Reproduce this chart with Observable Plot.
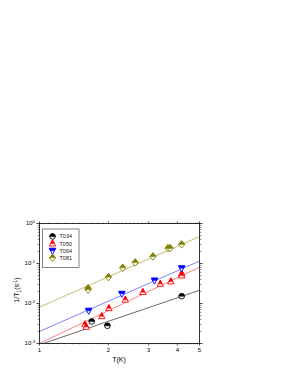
<!DOCTYPE html>
<html>
<head>
<meta charset="utf-8">
<script src="https://cdn.jsdelivr.net/npm/d3@7"></script>
<script src="https://cdn.jsdelivr.net/npm/@observablehq/plot@0.6"></script>
<style>
  html, body { margin: 0; padding: 0; background: #fff; }
  #chart { width: 291px; height: 376px; }
</style>
</head>
<body>
<div id="chart"></div>
<script>
// ---- data ----
const seriesNames = ["T034", "T050", "T064", "T081"];
const T034_T = [1.69, 1.98, 4.18];
const T034_R = [0.00355, 0.00277, 0.0152];
const T050_T = [1.58, 1.60, 1.87, 2.01, 2.37, 2.83, 3.37, 3.75, 4.18, 4.18];
const T050_R = [0.0030, 0.0026, 0.0048, 0.0076, 0.0124, 0.0192, 0.031, 0.0355, 0.056, 0.050];
const T064_T = [1.64, 2.29, 3.18, 4.18];
const T064_R = [0.0066, 0.0175, 0.0376, 0.0763];
const T081_T = [1.63, 1.63, 2.0, 2.31, 2.62, 3.13, 3.64, 3.72, 4.18];
const T081_R = [0.024, 0.022, 0.0455, 0.078, 0.106, 0.150, 0.241, 0.241, 0.30];
// power-law fit lines (straight on log-log), values at the two ends T = 1 and T = 5
const fitT = [1, 5];
const T034_fit = [0.00093, 0.0214];
const T050_fit = [0.00100, 0.081];
const T064_fit = [0.0020, 0.115];
const T081_fit = [0.0081, 0.473];
// ticks
const xMajor = [1, 2, 3, 4, 5];
const xMinor = d3.range(11, 50).map(v => v / 10).filter(v => !xMajor.includes(v));
const yMajor = [1e-3, 1e-2, 1e-1, 1];
const yMinor = [1e-3, 1e-2, 1e-1].flatMap(b => d3.range(2, 10).map(k => +(b * k).toPrecision(3)));

// ---- symbols (half-filled, Origin style) ----
function poly(ctx, pts) { ctx.moveTo(pts[0][0], pts[0][1]); for (let i = 1; i < pts.length; i++) ctx.lineTo(pts[i][0], pts[i][1]); ctx.closePath(); }
const symCircle = { draw(ctx, size) { const r = Math.sqrt(size / Math.PI); ctx.moveTo(r, 0); ctx.arc(0, 0, r, 0, 2 * Math.PI); } };
const symCircleTop = { draw(ctx, size) { const r = Math.sqrt(size / Math.PI); ctx.moveTo(-r, 0); ctx.arc(0, 0, r, Math.PI, 2 * Math.PI); ctx.closePath(); } };
const symUp = { draw(ctx, size) { const r = Math.sqrt(size / Math.PI) * 1.15; poly(ctx, [[0, -1.15 * r], [r, 0.75 * r], [-r, 0.75 * r]]); } };
const symUpTop = { draw(ctx, size) { const r = Math.sqrt(size / Math.PI) * 1.15; poly(ctx, [[0, -1.15 * r], [0.605 * r, 0], [-0.605 * r, 0]]); } };
const symDown = { draw(ctx, size) { const r = Math.sqrt(size / Math.PI) * 1.15; poly(ctx, [[-r, -0.75 * r], [r, -0.75 * r], [0, 1.15 * r]]); } };
const symDownTop = { draw(ctx, size) { const r = Math.sqrt(size / Math.PI) * 1.15; poly(ctx, [[-r, -0.75 * r], [r, -0.75 * r], [0.605 * r, 0], [-0.605 * r, 0]]); } };
const symDia = { draw(ctx, size) { const r = Math.sqrt(size / Math.PI) * 1.1; poly(ctx, [[0, -1.2 * r], [r, 0], [0, 1.2 * r], [-r, 0]]); } };
const symDiaTop = { draw(ctx, size) { const r = Math.sqrt(size / Math.PI) * 1.1; poly(ctx, [[0, -1.2 * r], [r, 0], [-r, 0]]); } };

const series = [
  { name: seriesNames[0], T: T034_T, R: T034_R, fit: T034_fit, color: "#000000", line: "#444444", sym: symCircle, top: symCircleTop },
  { name: seriesNames[1], T: T050_T, R: T050_R, fit: T050_fit, color: "#ff0000", line: "#ff6060", sym: symUp, top: symUpTop },
  { name: seriesNames[2], T: T064_T, R: T064_R, fit: T064_fit, color: "#0000ff", line: "#6060ff", sym: symDown, top: symDownTop },
  { name: seriesNames[3], T: T081_T, R: T081_R, fit: T081_fit, color: "#808000", line: "#b0b050", sym: symDia, top: symDiaTop }
];

const R = 2.8;
const marks = [];
for (const s of series) {
  const fitRows = fitT.map((t, i) => ({ T: t, R: s.fit[i] }));
  marks.push(Plot.line(fitRows, { x: "T", y: "R", stroke: s.line, strokeWidth: 0.8, clip: true }));
}
for (const s of series) {
  const pts = s.T.map((t, i) => ({ T: t, R: s.R[i] }));
  marks.push(Plot.dot(pts, { x: "T", y: "R", symbol: s.sym, r: R, fill: "white", stroke: s.color, strokeWidth: 0.9 }));
  marks.push(Plot.dot(pts, { x: "T", y: "R", symbol: s.top, r: R, fill: s.color, stroke: s.color, strokeWidth: 0.5 }));
}

const blank = () => "";
const chart = Plot.plot({
  width: 291, height: 376,
  marginLeft: 39, marginRight: 92, marginTop: 223, marginBottom: 33,
  style: { fontFamily: "'Liberation Sans', Arial, sans-serif", fontSize: "6px", background: "white", overflow: "visible" },
  x: { type: "log", domain: [1, 5] },
  y: { type: "log", domain: [1e-3, 1] },
  marks: [
    ...marks,
    Plot.frame({ stroke: "black", strokeWidth: 0.8 }),
    Plot.axisX({ anchor: "bottom", ticks: xMajor, tickSize: 2.5, tickPadding: 2, tickFormat: d => String(d), label: null, strokeWidth: 0.7 }),
    Plot.axisX({ anchor: "bottom", ticks: xMinor, tickSize: 1.3, tickFormat: blank, label: null, strokeWidth: 0.5 }),
    Plot.axisX({ anchor: "top", ticks: xMajor, tickSize: 2.5, tickFormat: blank, label: null, strokeWidth: 0.7 }),
    Plot.axisX({ anchor: "top", ticks: xMinor, tickSize: 1.3, tickFormat: blank, label: null, strokeWidth: 0.5 }),
    Plot.axisY({ anchor: "left", ticks: yMajor, tickSize: 2.5, tickPadding: 2, tickFormat: d => "10^" + Math.round(Math.log10(d)), label: null, strokeWidth: 0.7 }),
    Plot.axisY({ anchor: "left", ticks: yMinor, tickSize: 1.3, tickFormat: blank, label: null, strokeWidth: 0.5 }),
    Plot.axisY({ anchor: "right", ticks: yMajor, tickSize: 2.5, tickFormat: blank, label: null, strokeWidth: 0.7 }),
    Plot.axisY({ anchor: "right", ticks: yMinor, tickSize: 1.3, tickFormat: blank, label: null, strokeWidth: 0.5 })
  ]
});
document.getElementById("chart").appendChild(chart);

const svg = d3.select(chart);
// superscript the y tick labels
svg.selectAll("text").each(function () {
  const t = d3.select(this);
  const s = t.text();
  if (s.startsWith("10^")) {
    const e = s.slice(3);
    t.text("10");
    t.append("tspan").attr("dy", "-2.5").attr("font-size", "4.2px").text(e);
  }
});

const font = "'Liberation Sans', Arial, sans-serif";
// axis titles
svg.append("text").attr("x", 119).attr("y", 362).attr("text-anchor", "middle")
  .attr("font-family", font).attr("font-size", "7px").text("T(K)");
const yl = svg.append("text").attr("transform", "translate(19,290) rotate(-90)").attr("text-anchor", "middle")
  .attr("font-family", font).attr("font-size", "7px");
yl.append("tspan").text("1/T");
yl.append("tspan").attr("dy", "1.5").attr("font-size", "4.8px").text("1");
yl.append("tspan").attr("dy", "-1.5").text("(s");
yl.append("tspan").attr("dy", "-2.5").attr("font-size", "4.8px").text("-1");
yl.append("tspan").attr("dy", "2.5").text(")");

// legend
const lg = svg.append("g");
lg.append("rect").attr("x", 42.5).attr("y", 229).attr("width", 36.5).attr("height", 38.5)
  .attr("fill", "white").attr("stroke", "#333").attr("stroke-width", 0.6);
series.forEach((s, i) => {
  const y = 236.5 + i * 7.1;
  const size = Math.PI * R * R;
  lg.append("path").attr("transform", `translate(52.5,${y})`).attr("d", d3.symbol(s.sym, size)())
    .attr("fill", "white").attr("stroke", s.color).attr("stroke-width", 0.9);
  lg.append("path").attr("transform", `translate(52.5,${y})`).attr("d", d3.symbol(s.top, size)())
    .attr("fill", s.color).attr("stroke", s.color).attr("stroke-width", 0.5);
  lg.append("text").attr("x", 59.5).attr("y", y).attr("dy", "0.35em").attr("text-anchor", "start")
    .attr("font-family", font).attr("font-size", "5.5px").attr("fill", "#222").text(s.name);
});
</script>
</body>
</html>
